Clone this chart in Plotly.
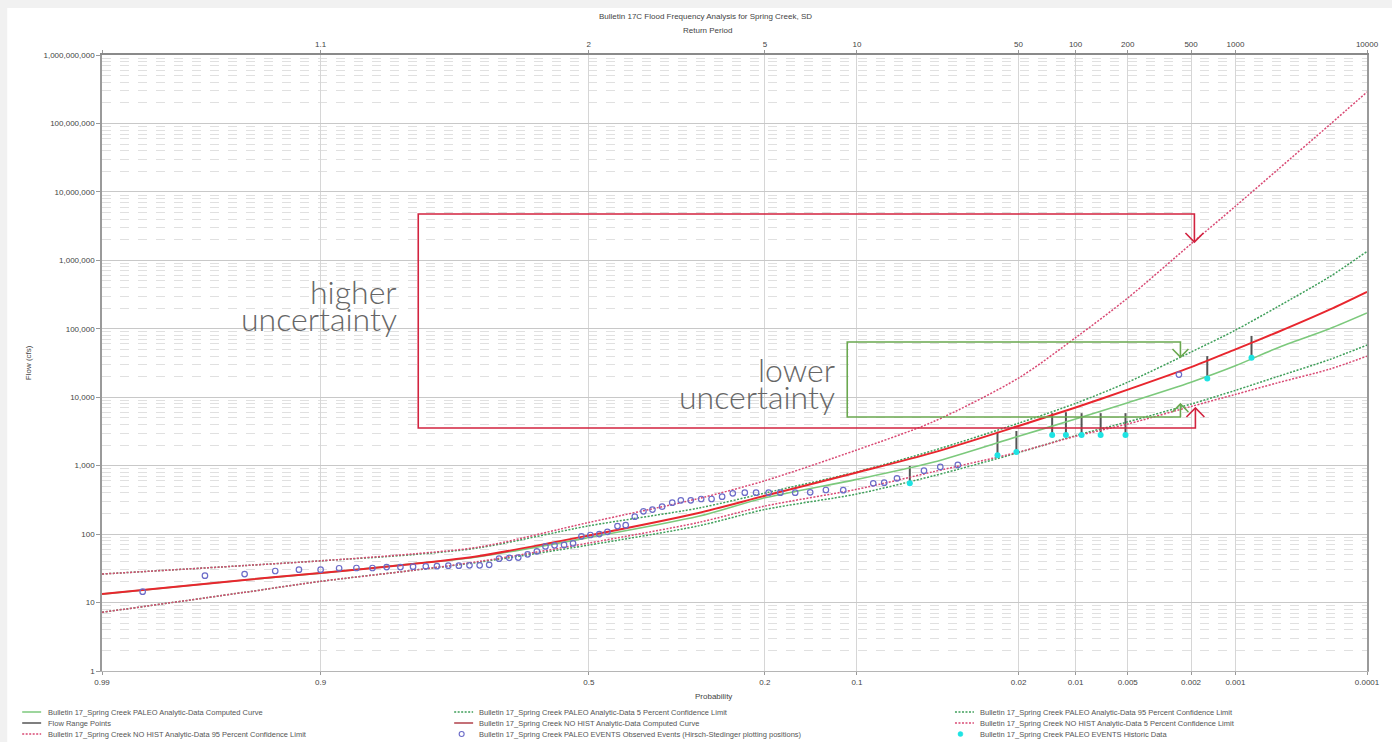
import plotly.graph_objects as go
from statistics import NormalDist

# ---------------- data ----------------
CURVE_P = [0.99, 0.95, 0.9, 0.8, 0.7, 0.5, 0.3, 0.2, 0.1, 0.05, 0.02, 0.01,
           0.005, 0.002, 0.001, 0.0005, 0.0002, 0.0001]

NOHIST_COMPUTED = [13.3, 21.4, 27.0, 36.7, 47.9, 95.5, 204, 363, 794, 1550, 3800,
                   7080, 12900, 27500, 50100, 89100, 190500, 347000]
PALEO_COMPUTED = [13.3, 21.4, 26.9, 36.7, 46.8, 89.1, 182, 339, 631, 1120, 2690,
                  4790, 8320, 16600, 28800, 52500, 100000, 170000]
NOHIST_UPPER = [26.1, 34.7, 40.7, 51.3, 64.6, 148, 331, 603, 1700, 4370, 19050,
                74100, 282000, 1740000, 6170000, 20900000, 95500000, 288000000]
PALEO_UPPER = [26.1, 34.7, 40.7, 50.1, 63.1, 132, 240, 398, 813, 1660, 4170,
               8130, 16600, 45700, 95500, 209000, 575000, 1350000]
NOHIST_LOWER = [7.2, 14.1, 20.4, 29.5, 39.8, 74.1, 148, 257, 452, 813, 1580,
                2690, 4070, 7330, 11000, 16200, 25700, 39800]
PALEO_LOWER = [7.2, 14.1, 20.4, 29.5, 38.9, 69.2, 132, 229, 386, 708, 1550,
               2750, 4370, 7940, 12600, 20000, 35500, 57800]

OBS_P = [0.9835, 0.9667, 0.950, 0.933, 0.917, 0.900, 0.8836, 0.8666, 0.8494,
         0.833, 0.816, 0.7995, 0.782, 0.766, 0.749, 0.7327, 0.7157, 0.699,
         0.683, 0.666, 0.648, 0.632, 0.615, 0.598, 0.582, 0.565, 0.547, 0.530,
         0.514, 0.497, 0.480, 0.4645, 0.4455, 0.430, 0.413, 0.397, 0.3805,
         0.363, 0.345, 0.330, 0.313, 0.2956, 0.2787, 0.262, 0.2457, 0.228,
         0.212, 0.195, 0.180, 0.162, 0.145, 0.1286, 0.112, 0.087, 0.079,
         0.0704, 0.0546, 0.0465, 0.0389, 0.0024]
OBS_Q = [14.4, 24.7, 26.1, 28.9, 30.2, 30.2, 31.7, 32, 32, 33, 33, 33.4, 33.8,
         34, 34.6, 34.6, 35, 35, 35.6, 43.7, 45, 45.4, 50.7, 56, 66, 68.6, 69.6,
         73.3, 92.8, 97, 100, 108, 131, 135, 180, 215, 228, 252, 288, 312, 312,
         326, 326, 352, 395, 403, 403, 403, 403, 403, 408, 441, 438, 552, 564,
         653, 845, 957, 1024, 21400]

HIST_P = [0.0625, 0.0254, 0.0205, 0.0134, 0.0113, 0.00926, 0.00722, 0.00516,
          0.00156, 0.00077]
HIST_Q = [552, 1420, 1590, 2800, 2800, 2800, 2800, 2800, 18700, 37700]
RANGE_TOP = [990, 3140, 3210, 5850, 6040, 5850, 5850, 5850, 39900, 78700]

PROB_TICKS = [0.99, 0.9, 0.5, 0.2, 0.1, 0.02, 0.01, 0.005, 0.002, 0.001, 0.0001]
PROB_LABELS = ["0.99", "0.9", "0.5", "0.2", "0.1", "0.02", "0.01", "0.005",
               "0.002", "0.001", "0.0001"]
RP_LABELS = ["", "1.1", "2", "5", "10", "50", "100", "200", "500", "1000", "10000"]
FLOW_TICKS = [1, 10, 100, 1000, 10000, 100000, 1000000, 10000000, 100000000,
              1000000000]
FLOW_LABELS = ["1", "10", "100", "1,000", "10,000", "100,000", "1,000,000",
               "10,000,000", "100,000,000", "1,000,000,000"]

TITLE = "Bulletin 17C Flood Frequency Analysis for Spring Creek, SD"
LEGEND_ITEMS = [
    # column, row, text, kind, color, dash
    (0, 0, "Bulletin 17_Spring Creek PALEO Analytic-Data Computed Curve", "line", "#7cc97c", "solid"),
    (0, 1, "Flow Range Points", "line", "#555555", "solid"),
    (0, 2, "Bulletin 17_Spring Creek NO HIST Analytic-Data 95 Percent Confidence Limit", "line", "#d94a74", "dot"),
    (1, 0, "Bulletin 17_Spring Creek PALEO Analytic-Data 5 Percent Confidence Limit", "line", "#3f9f5a", "dot"),
    (1, 1, "Bulletin 17_Spring Creek NO HIST Analytic-Data Computed Curve", "line", "#b0404a", "solid"),
    (1, 2, "Bulletin 17_Spring Creek PALEO EVENTS Observed Events (Hirsch-Stedinger plotting positions)", "ocircle", "#6b6bc8", None),
    (2, 0, "Bulletin 17_Spring Creek PALEO Analytic-Data 95 Percent Confidence Limit", "line", "#3f9f5a", "dot"),
    (2, 1, "Bulletin 17_Spring Creek NO HIST Analytic-Data 5 Percent Confidence Limit", "line", "#d94a74", "dot"),
    (2, 2, "Bulletin 17_Spring Creek PALEO EVENTS Historic Data", "dot", "#1ee3e3", None),
]

# ---------------- layout geometry ----------------
W, H = 1392, 742
L, R, T, B = 102, 1370, 55, 671


def fx(x):
    return (x - L) / (R - L)


def fy(y):
    return (B - y) / (B - T)


ND = NormalDist()


def z(p):
    return ND.inv_cdf(1 - p)


FONT = "Liberation Sans, Arial, sans-serif"
TXT = "#444444"
DOT = "2px,1.5px"

fig = go.Figure()


def curve(vals, color, dash, width, name):
    fig.add_trace(go.Scatter(
        x=[z(p) for p in CURVE_P], y=vals, mode="lines", name=name,
        line=dict(color=color, dash=dash, width=width, shape="spline", smoothing=0.8),
        hoverinfo="skip", showlegend=False))


# flow range bars
bx, by = [], []
for p, lo, hi in zip(HIST_P, HIST_Q, RANGE_TOP):
    bx += [z(p), z(p), None]
    by += [lo, hi, None]
fig.add_trace(go.Scatter(x=bx, y=by, mode="lines", line=dict(color="#555555", width=2),
                         hoverinfo="skip", showlegend=False))

curve(PALEO_LOWER, "#3f9f5a", DOT, 1.5, "PALEO lower")
curve(NOHIST_LOWER, "#d94a74", DOT, 1.5, "NOHIST lower")
curve(PALEO_UPPER, "#3f9f5a", DOT, 1.5, "PALEO upper")
curve(NOHIST_UPPER, "#d94a74", DOT, 1.5, "NOHIST upper")
curve(PALEO_COMPUTED, "#7cc97c", "solid", 1.6, "PALEO computed")
curve(NOHIST_COMPUTED, "#e8262e", "solid", 2.0, "NOHIST computed")

fig.add_trace(go.Scatter(
    x=[z(p) for p in OBS_P], y=OBS_Q, mode="markers",
    marker=dict(symbol="circle-open", size=5.5, color="#6b6bc8", line=dict(width=1.2)),
    hoverinfo="skip", showlegend=False))
fig.add_trace(go.Scatter(
    x=[z(p) for p in HIST_P], y=HIST_Q, mode="markers",
    marker=dict(symbol="circle", size=6, color="#1ee3e3"),
    hoverinfo="skip", showlegend=False))

# invisible trace to carry the top (return period) axis
fig.add_trace(go.Scatter(x=[z(0.5)], y=[10], xaxis="x2", mode="markers",
                         marker=dict(opacity=0), hoverinfo="skip", showlegend=False))

xr = [z(0.99), z(0.0001)]
tick_z = [z(p) for p in PROB_TICKS]

shapes = []
# page frame: light grey band top/left, white page
shapes.append(dict(type="rect", xref="paper", yref="paper", layer="below",
                   x0=fx(7), x1=fx(W + 5), y0=fy(8), y1=fy(H + 5),
                   fillcolor="white", line=dict(width=0)))


def path(points, color, width=1.6):
    d = "M " + " L ".join(f"{fx(a):.5f},{fy(b):.5f}" for a, b in points)
    shapes.append(dict(type="path", xref="paper", yref="paper", path=d,
                       line=dict(color=color, width=width)))


RED_BOX = "#d2233f"
GREEN_BOX = "#6aa84f"
# red bracket (higher uncertainty)
path([(1197, 242), (1197, 214), (419, 214), (419, 428), (1198, 428), (1198, 408)], RED_BOX)
path([(1188, 233), (1197, 242), (1206, 233)], RED_BOX)
path([(1189, 417), (1198, 408), (1207, 417)], RED_BOX)
# green bracket (lower uncertainty)
path([(1183, 357), (1183, 342), (849, 342), (849, 417), (1183, 417), (1183, 404)], GREEN_BOX)
path([(1175, 349), (1183, 357), (1191, 349)], GREEN_BOX)
path([(1175, 412), (1183, 404), (1191, 412)], GREEN_BOX)

annotations = []


def text(x, y, s, size=8, xanchor="center", color=TXT, family=FONT, angle=0, weight=None):
    f = dict(size=size, color=color, family=family)
    if weight:
        f["weight"] = weight
    annotations.append(dict(xref="paper", yref="paper", x=fx(x), y=fy(y), text=s,
                            showarrow=False, xanchor=xanchor, yanchor="middle",
                            font=f, textangle=angle, borderpad=0))


text(707, 17, TITLE)
text(709, 30, "Return Period")
text(715, 696, "Probability")
text(28, 363, "Flow (cfs)", angle=-90)

BIG = "Lato, sans-serif"
text(399, 291, "higher", size=32, xanchor="right", color="#666666", family=BIG, weight=300)
text(399, 318, "uncertainty", size=32, xanchor="right", color="#666666", family=BIG, weight=300)
text(838, 369, "lower", size=32, xanchor="right", color="#666666", family=BIG, weight=300)
text(838, 396, "uncertainty", size=32, xanchor="right", color="#666666", family=BIG, weight=300)

# manual legend (3 columns x 3 rows)
COL_SAMPLE = [22, 455, 957]
COL_TEXT = [47, 479, 981]
ROW_Y = [712, 723, 734]
for col, row, label, kind, color, dash in LEGEND_ITEMS:
    yy = ROW_Y[row]
    x0 = COL_SAMPLE[col]
    if kind == "line":
        shapes.append(dict(type="line", xref="paper", yref="paper",
                           x0=fx(x0), x1=fx(x0 + 19), y0=fy(yy), y1=fy(yy),
                           line=dict(color=color, width=1.5,
                                     dash=DOT if dash == "dot" else dash)))
    elif kind == "ocircle":
        shapes.append(dict(type="circle", xref="paper", yref="paper",
                           x0=fx(x0 + 5), x1=fx(x0 + 10), y0=fy(yy + 2.5), y1=fy(yy - 2.5),
                           line=dict(color=color, width=1.1)))
    else:
        shapes.append(dict(type="circle", xref="paper", yref="paper",
                           x0=fx(x0 + 3), x1=fx(x0 + 8), y0=fy(yy + 2.5), y1=fy(yy - 2.5),
                           fillcolor=color, line=dict(color=color, width=0.5)))
    text(COL_TEXT[col], yy, label, size=7.5, xanchor="left", color="#555555")

GRID = "#d6d6d6"
fig.update_layout(
    width=W, height=H,
    margin=dict(l=L, r=W - R, t=T, b=H - B),
    paper_bgcolor="#f1f1f1", plot_bgcolor="rgba(0,0,0,0)",
    showlegend=False,
    font=dict(family=FONT, size=8, color=TXT),
    xaxis=dict(range=xr, tickmode="array", tickvals=tick_z, ticktext=PROB_LABELS,
               showgrid=True, gridcolor=GRID, gridwidth=1, zeroline=False,
               showline=True, linecolor="#b5b5b5", linewidth=1, mirror=False,
               ticks="outside", ticklen=3, tickcolor="#999999",
               tickfont=dict(size=8, color=TXT)),
    xaxis2=dict(range=xr, overlaying="x", side="top", tickmode="array",
                tickvals=tick_z, ticktext=RP_LABELS, showgrid=False, zeroline=False,
                showline=True, linecolor="#8a8a8a", linewidth=2,
                ticks="outside", ticklen=3, tickcolor="#999999",
                tickfont=dict(size=8, color=TXT)),
    yaxis=dict(type="log", range=[0, 9], tickmode="array", tickvals=FLOW_TICKS,
               ticktext=FLOW_LABELS, showgrid=True, gridcolor="#c8c8c8", gridwidth=1,
               zeroline=False, showline=True, linecolor="#9a9a9a", linewidth=1.5,
               mirror=True, ticks="outside", ticklen=4, tickcolor="#999999",
               tickfont=dict(size=8, color=TXT),
               minor=dict(dtick="D1", showgrid=True, gridcolor="#e0e0e0",
                          griddash="dash", gridwidth=1, ticks="")),
    shapes=shapes,
    annotations=annotations,
)

fig.write_html("out.html")
